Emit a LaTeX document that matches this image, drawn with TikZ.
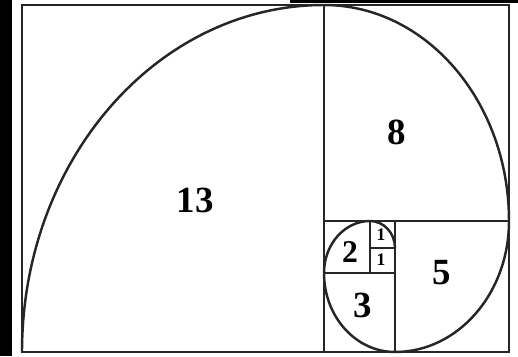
\documentclass[tikz,border=0pt]{standalone}
\usepackage{fontspec}
\setmainfont{Liberation Serif}
\usepackage{tikz}
\usetikzlibrary{positioning}

\tikzset{
  sqline/.style={line width=1.3pt, black!85},
  spiral/.style={line width=1.4pt, black!85},
  numlbl/.style={font=\fontsize{21}{21}\selectfont\bfseries, inner sep=0pt},
  midlbl/.style={font=\fontsize{18}{18}\selectfont\bfseries, inner sep=0pt},
  tinylbl/.style={font=\fontsize{10}{10}\selectfont\bfseries, inner sep=0pt}
}

\begin{document}
\begin{tikzpicture}[x=0.02cm, y=0.02cm]
  \useasboundingbox (0,0) rectangle (518,356);
  % scan edges
  \fill[black] (0,0) rectangle (12,356);
  \fill[black] (290,353) rectangle (518,356);
  % corners of the squares
  \coordinate (bl) at (22,4);
  \coordinate (tr) at (509,351);
  \coordinate (mtop) at (324,351);
  \coordinate (mbot) at (324,4);
  \coordinate (hr) at (509,135);
  \coordinate (hl) at (324,135);
  % outer frame and divisions
  \draw[sqline] (bl) rectangle (tr);
  \draw[sqline] (mtop) -- (mbot);
  \draw[sqline] (hl) -- (hr);
  \draw[sqline] (395,135) -- (395,4);
  \draw[sqline] (324,83) -- (395,83);
  \draw[sqline] (370,135) -- (370,83);
  \draw[sqline] (370,108) -- (395,108);
  % spiral, one quarter per square
  \draw[spiral] (bl) arc[start angle=180, end angle=90, x radius=302, y radius=347]
    arc[start angle=90, end angle=0, x radius=185, y radius=216]
    arc[start angle=0, end angle=-90, x radius=114, y radius=131]
    arc[start angle=-90, end angle=-180, x radius=71, y radius=79]
    arc[start angle=180, end angle=90, x radius=46, y radius=52]
    arc[start angle=90, end angle=0, x radius=25, y radius=27];
  % square sizes
  \node[numlbl] (n13) at (195,156) {13};
  \node[numlbl] (n8) at (397,224) {8};
  \node[numlbl] (n5) at (442,83) {5};
  \node[numlbl] (n3) at (363,51) {3};
  \node[midlbl] (n2) at (350,104) {2};
  \node[tinylbl] (n1a) at (381,121) {1};
  \node[tinylbl] (n1b) at (381,96) {1};
\end{tikzpicture}
\end{document}
